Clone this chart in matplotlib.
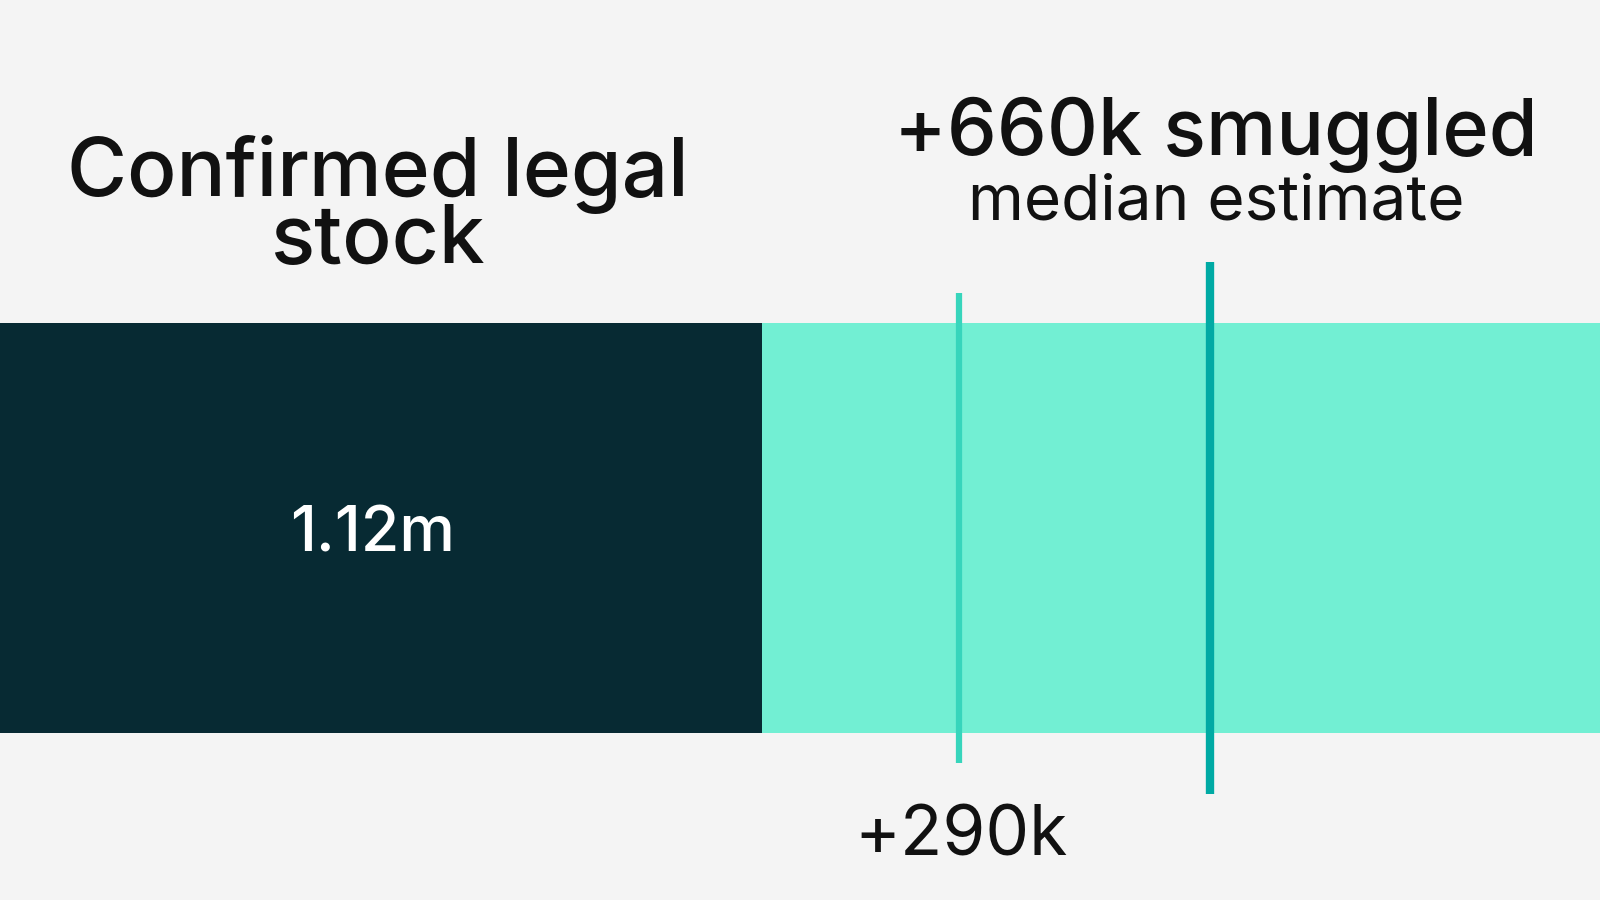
import matplotlib.pyplot as plt

# values in millions
legal_stock = 1.12
smuggled_low = 0.29
smuggled_median = 0.66
smuggled_high = 1.25

legal_label = "1.12m"
low_label = "+290k"
median_label = "+660k smuggled"
median_sub = "median estimate"
legal_title = "Confirmed legal\nstock"

bg = "#f4f4f4"
dark = "#072a33"
light = "#72efd3"
low_col = "#37d5bc"
med_col = "#00aaa4"

plt.rcParams['font.family'] = ['Inter', 'DejaVu Sans']

fig = plt.figure(figsize=(16, 9), dpi=100, facecolor=bg)
ax = fig.add_axes([0, 0, 1, 1])
ax.set_facecolor(bg)
ax.set_xlim(0, 1600 / 680)
ax.set_ylim(900, 0)  # pixel-like vertical layout
ax.axis("off")

bar_y, bar_h = 528, 410
ax.barh(bar_y, legal_stock, height=bar_h, left=0, color=dark, linewidth=0)
ax.barh(bar_y, smuggled_high, height=bar_h, left=legal_stock, color=light, linewidth=0)

x_low = legal_stock + smuggled_low
x_med = legal_stock + smuggled_median
ax.plot([x_low, x_low], [293, 763], color=low_col, lw=4.5, solid_capstyle="butt")
ax.plot([x_med, x_med], [262, 794], color=med_col, lw=6, solid_capstyle="butt")

ax.text(legal_stock / 2 - 0.012, 535, legal_label, color="white", fontsize=45,
        ha="center", va="center", fontweight="medium")
ax.text(legal_stock / 2 - 0.005, 263, legal_title, color="#111111", fontsize=59,
        ha="center", va="baseline", fontweight="medium", linespacing=0.83)
ax.text(x_med + 0.008, 155, median_label, color="#111111", fontsize=57,
        ha="center", va="baseline", fontweight="medium")
ax.text(x_med + 0.008, 220, median_sub, color="#111111", fontsize=46,
        ha="center", va="baseline")
ax.text(x_low + 0.003, 855, low_label, color="#111111", fontsize=50,
        ha="center", va="baseline")

fig.savefig("out.png", dpi=100, facecolor=bg)
